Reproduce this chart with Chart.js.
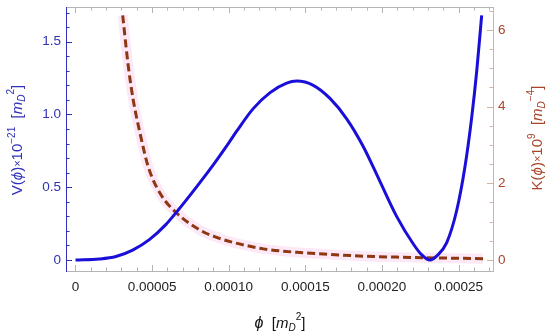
<!DOCTYPE html>
<html>
<head>
<meta charset="utf-8">
<script src="https://cdn.jsdelivr.net/npm/chart.js@4.4.1/dist/chart.umd.min.js"></script>
<style>
  html, body { margin: 0; padding: 0; background: #fff; }
</style>
</head>
<body>
<canvas id="chart" width="550" height="336"></canvas>
<script>
// V(phi) x 10^-21, left axis
const vPhi = [0, 1.55e-5, 2.64e-5, 3.73e-5, 4.82e-5, 5.91e-5, 6.56e-5, 8.08e-5, 9.17e-5, 1.004e-4,
  1.052e-4, 1.16e-4, 1.27e-4, 1.378e-4, 1.444e-4, 1.552e-4, 1.661e-4, 1.77e-4, 1.878e-4, 1.987e-4,
  2.096e-4, 2.205e-4, 2.26e-4, 2.314e-4, 2.36e-4, 2.423e-4, 2.488e-4, 2.542e-4, 2.586e-4, 2.619e-4, 2.651e-4];
const vVals = [0, 0.007, 0.024, 0.068, 0.14, 0.245, 0.325, 0.527, 0.68, 0.81,
  0.885, 1.04, 1.15, 1.215, 1.229, 1.2, 1.11, 0.97, 0.78, 0.54,
  0.3, 0.11, 0.035, 0, 0.03, 0.12, 0.34, 0.64, 0.98, 1.3, 1.68];

// K(phi) x 10^9, right axis
const kPhi = [3.08e-5, 3.45e-5, 3.77e-5, 4.21e-5, 4.75e-5, 5.52e-5, 6.61e-5, 8.13e-5, 9.22e-5, 1.009e-4,
  1.102e-4, 1.226e-4, 1.444e-4, 1.661e-4, 1.878e-4, 2.096e-4, 2.29e-4, 2.66e-4];
const kVals = [6.38, 5.04, 4.17, 3.31, 2.43, 1.74, 1.22, 0.78, 0.59, 0.48,
  0.39, 0.29, 0.2, 0.145, 0.1, 0.075, 0.058, 0.035];

const xTicks = [0, 0.00005, 0.0001, 0.00015, 0.0002, 0.00025];
const vTicks = [0, 0.5, 1.0, 1.5];
const kTicks = [0, 2, 4, 6];
const xMinorStep = 0.00001;
const vMinorStep = 0.1;
const kMinorStep = 0.5;

const vColor = '#1a0fd8';
const vAxisColor = '#3030b8';
const kColor = '#8e3812';
const kLabelColor = '#a8452a';
const kAxisColor = '#d2b4a2';
const frameColor = '#b4b4b4';
const fontFam = "'Liberation Sans', Arial, sans-serif";

function pts(xs, ys) {
    return xs.map((x, i) => ({ x: x, y: ys[i] }));
}

function fixTicks(list) {
    return scale => { scale.ticks = list.map(v => ({ value: v })); };
}

function fixSize(prop, size) {
    return scale => {
        scale[prop] = size;
        scale.paddingTop = 0; scale.paddingBottom = 0;
        scale.paddingLeft = 0; scale.paddingRight = 0;
    };
}

// rich text: parts of {t, s, it, dy}
function drawRich(ctx, parts, cx, cy, rot, color) {
    ctx.save();
    ctx.translate(cx, cy);
    ctx.rotate(rot);
    ctx.textBaseline = 'middle';
    ctx.textAlign = 'left';
    ctx.fillStyle = color;
    let total = 0;
    parts.forEach(p => {
        ctx.font = (p.it ? 'italic ' : '') + p.s + 'px ' + fontFam;
        p.w = ctx.measureText(p.t).width;
        total += p.w;
    });
    let x = -total / 2;
    parts.forEach(p => {
        ctx.font = (p.it ? 'italic ' : '') + p.s + 'px ' + fontFam;
        ctx.fillText(p.t, x, p.dy || 0);
        x += p.w;
    });
    ctx.restore();
}

function minorValues(min, max, step) {
    const out = [];
    const start = Math.ceil(min / step - 1e-9);
    for (let i = start; i * step <= max + 1e-12; i++) out.push(i * step);
    return out;
}

const framePlugin = {
    id: 'frame',
    beforeDatasetsDraw(chart) {
        const ctx = chart.ctx;
        const a = chart.chartArea;
        const sx = chart.scales.x, sv = chart.scales.yV, sk = chart.scales.yK;
        ctx.save();
        ctx.lineWidth = 1;

        // top and bottom frame with ticks
        ctx.strokeStyle = frameColor;
        ctx.beginPath();
        ctx.moveTo(a.left, a.top + 0.5); ctx.lineTo(a.right, a.top + 0.5);
        ctx.moveTo(a.left, a.bottom + 0.5); ctx.lineTo(a.right, a.bottom + 0.5);
        minorValues(sx.min, sx.max, xMinorStep).forEach(v => {
            const px = Math.round(sx.getPixelForValue(v)) + 0.5;
            const major = xTicks.some(t => Math.abs(t - v) < 1e-9);
            const len = major ? 6 : 3.5;
            ctx.moveTo(px, a.bottom); ctx.lineTo(px, a.bottom - len);
            ctx.moveTo(px, a.top); ctx.lineTo(px, a.top + len);
        });
        ctx.stroke();

        // left axis
        ctx.strokeStyle = vAxisColor;
        ctx.beginPath();
        ctx.moveTo(a.left + 0.5, a.top); ctx.lineTo(a.left + 0.5, a.bottom + 1);
        minorValues(sv.min, sv.max, vMinorStep).forEach(v => {
            const py = Math.round(sv.getPixelForValue(v)) + 0.5;
            const major = vTicks.some(t => Math.abs(t - v) < 1e-9);
            ctx.moveTo(a.left, py); ctx.lineTo(a.left + (major ? 6 : 3.5), py);
        });
        ctx.stroke();

        // right axis
        ctx.strokeStyle = kAxisColor;
        ctx.beginPath();
        ctx.moveTo(a.right + 0.5, a.top); ctx.lineTo(a.right + 0.5, a.bottom + 1);
        minorValues(sk.min, sk.max, kMinorStep).forEach(v => {
            const py = Math.round(sk.getPixelForValue(v)) + 0.5;
            const major = kTicks.some(t => Math.abs(t - v) < 1e-9);
            ctx.moveTo(a.right, py); ctx.lineTo(a.right - (major ? 6 : 3.5), py);
        });
        ctx.stroke();
        ctx.restore();
    },
    afterDraw(chart) {
        const ctx = chart.ctx;
        drawRich(ctx, [
            { t: 'V(', s: 15 }, { t: 'ϕ', s: 15, it: true }, { t: ')', s: 15 },
            { t: '×', s: 11 }, { t: '10', s: 15 }, { t: '−21', s: 10, dy: -6 },
            { t: '  [', s: 15 }, { t: 'm', s: 15, it: true }, { t: 'D', s: 10, it: true, dy: 4 },
            { t: '2', s: 10, dy: -7 }, { t: ']', s: 15 }
        ], 18, 140, -Math.PI / 2, vAxisColor);

        drawRich(ctx, [
            { t: 'K(', s: 15 }, { t: 'ϕ', s: 15, it: true }, { t: ')', s: 15 },
            { t: '×', s: 11 }, { t: '10', s: 15 }, { t: '9', s: 10, dy: -6 },
            { t: '  [', s: 15 }, { t: 'm', s: 15, it: true }, { t: 'D', s: 10, it: true, dy: 4 },
            { t: '−4', s: 10, dy: -7 }, { t: ']', s: 15 }
        ], 538, 138, -Math.PI / 2, kLabelColor);

        drawRich(ctx, [
            { t: 'ϕ', s: 16, it: true }, { t: '  [', s: 15 }, { t: 'm', s: 15, it: true },
            { t: 'D', s: 10, it: true, dy: 4 }, { t: '2', s: 10, dy: -7 }, { t: ']', s: 15 }
        ], 280, 324, 0, '#111');
    }
};

new Chart(document.getElementById('chart'), {
    type: 'line',
    data: {
        datasets: [
            {
                label: 'V',
                data: pts(vPhi, vVals),
                yAxisID: 'yV',
                borderColor: vColor,
                borderWidth: 3,
                pointRadius: 0,
                cubicInterpolationMode: 'monotone'
            },
            {
                label: 'K',
                data: pts(kPhi, kVals),
                yAxisID: 'yK',
                borderColor: kColor,
                borderWidth: 3,
                borderDash: [8, 4],
                pointRadius: 0,
                cubicInterpolationMode: 'monotone'
            },
            {
                label: 'K halo',
                data: pts(kPhi, kVals),
                yAxisID: 'yK',
                borderColor: 'rgba(248, 205, 235, 0.45)',
                borderWidth: 10,
                pointRadius: 0,
                cubicInterpolationMode: 'monotone'
            }
        ]
    },
    options: {
        responsive: false,
        animation: false,
        layout: { padding: { top: 7, left: 0, right: 0, bottom: 0 } },
        plugins: { legend: { display: false }, tooltip: { enabled: false } },
        scales: {
            x: {
                type: 'linear',
                min: -6.2e-6,
                max: 2.725e-4,
                afterBuildTicks: fixTicks(xTicks),
                afterFit: fixSize('height', 65),
                grid: { display: false, drawTicks: false },
                border: { display: false },
                ticks: {
                    autoSkip: false,
                    maxRotation: 0,
                    padding: 8,
                    color: '#222',
                    font: { family: fontFam, size: 13.5 },
                    callback: v => v === 0 ? '0' : v.toFixed(5)
                }
            },
            yV: {
                type: 'linear',
                position: 'left',
                min: -0.0755,
                max: 1.738,
                afterBuildTicks: fixTicks(vTicks),
                afterFit: fixSize('width', 66),
                grid: { display: false, drawTicks: false },
                border: { display: false },
                ticks: {
                    padding: 5,
                    color: vAxisColor,
                    font: { family: fontFam, size: 13.5 },
                    callback: v => v === 0 ? '0' : v.toFixed(1)
                }
            },
            yK: {
                type: 'linear',
                position: 'right',
                min: -0.287,
                max: 6.6,
                afterBuildTicks: fixTicks(kTicks),
                afterFit: fixSize('width', 57),
                grid: { display: false, drawTicks: false },
                border: { display: false },
                ticks: {
                    padding: 5,
                    color: kLabelColor,
                    font: { family: fontFam, size: 13.5 },
                    callback: v => String(v)
                }
            }
        }
    },
    plugins: [framePlugin]
});
</script>
</body>
</html>
